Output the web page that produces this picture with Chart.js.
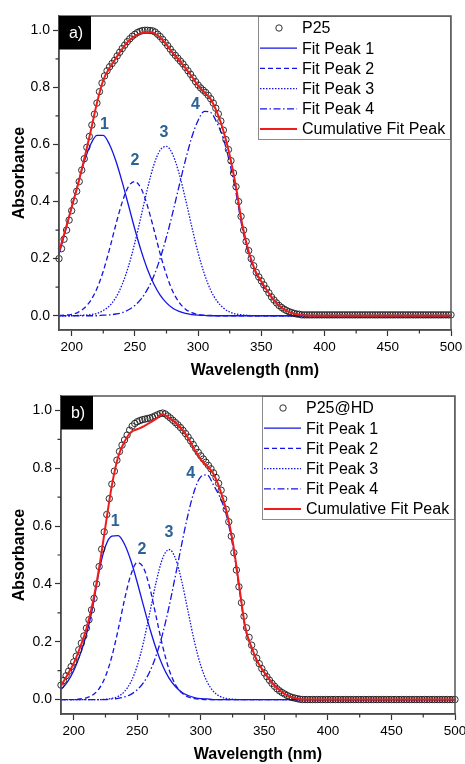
<!DOCTYPE html>
<html>
<head>
<meta charset="utf-8">
<script src="https://cdn.jsdelivr.net/npm/chart.js@4.4.1/dist/chart.umd.min.js"></script>
<style>
  html, body { margin: 0; padding: 0; background: #fff; }
  #wrap { position: relative; width: 465px; height: 764px; }
  .panel { position: absolute; left: 0; width: 465px; }
  #panelA { top: 0; height: 380px; }
  #panelB { top: 380px; height: 384px; }
</style>
</head>
<body>
<div id="wrap">
  <div class="panel" id="panelA"><canvas id="chartA"></canvas></div>
  <div class="panel" id="panelB"><canvas id="chartB"></canvas></div>
</div>
<script>
// wavelengths of the measured points (nm)
const wavelengthData = [
  190,192,194,196,198,200,202,204,206,208,
  210,212,214,216,218,220,222,224,226,228,
  230,232,234,236,238,240,242,244,246,248,
  250,252,254,256,258,260,262,264,266,268,
  270,272,274,276,278,280,282,284,286,288,
  290,292,294,296,298,300,302,304,306,308,
  310,312,314,316,318,320,322,324,326,328,
  330,332,334,336,338,340,342,344,346,348,
  350,352,354,356,358,360,362,364,366,368,
  370,372,374,376,378,380,382,384,386,388,
  390,392,394,396,398,400,402,404,406,408,
  410,412,414,416,418,420,422,424,426,428,
  430,432,434,436,438,440,442,444,446,448,
  450,452,454,456,458,460,462,464,466,468,
  470,472,474,476,478,480,482,484,486,488,
  490,492,494,496,498,500
];
// wavelengths of the fitted curves (nm)
const wavelengthFit = [
  190,195,200,205,210,215,220,225,230,235,
  240,245,250,255,260,265,270,275,280,285,
  290,295,300,305,310,315,320,325,330,335,
  340,345,350,355,360,365,370,375,380,385,
  390,395,400,405,410,415,420,425,430,435,
  440,445,450,455,460,465,470,475,480,485,
  490,495,500
];

const xTicks = [200, 250, 300, 350, 400, 450, 500];
const xMinorTicks = [225, 275, 325, 375, 425, 475];
const yTicks = [0.0, 0.2, 0.4, 0.6, 0.8, 1.0];
const yMinorTicks = [0.1, 0.3, 0.5, 0.7, 0.9];
const peakNames = ['Fit Peak 1', 'Fit Peak 2', 'Fit Peak 3', 'Fit Peak 4'];
const cumulativeName = 'Cumulative Fit Peak';
const peakTags = ['1', '2', '3', '4'];

// ---- a) P25 ----
const p25Absorbance = [
  0.200,0.235,0.268,0.300,0.335,0.368,0.402,0.436,0.470,0.510,
  0.550,0.590,0.628,0.668,0.706,0.745,0.785,0.815,0.840,0.858,
  0.872,0.884,0.895,0.910,0.923,0.936,0.948,0.960,0.970,0.979,
  0.986,0.992,0.996,0.999,1.000,1.000,0.999,0.998,0.994,0.986,
  0.978,0.968,0.957,0.946,0.934,0.922,0.912,0.902,0.892,0.882,
  0.870,0.858,0.846,0.833,0.820,0.808,0.798,0.790,0.782,0.772,
  0.760,0.745,0.727,0.707,0.682,0.650,0.617,0.582,0.543,0.500,
  0.452,0.400,0.348,0.300,0.260,0.228,0.200,0.175,0.152,0.136,
  0.122,0.108,0.094,0.080,0.066,0.055,0.045,0.036,0.029,0.023,
  0.018,0.014,0.011,0.008,0.006,0.005,0.003,0.003,0.003,0.003,
  0.003,0.003,0.003,0.003,0.003,0.003,0.003,0.003,0.003,0.003,
  0.003,0.003,0.003,0.003,0.003,0.003,0.003,0.003,0.003,0.003,
  0.003,0.003,0.003,0.003,0.003,0.003,0.003,0.003,0.003,0.003,
  0.003,0.003,0.003,0.003,0.003,0.003,0.003,0.003,0.003,0.003,
  0.003,0.003,0.003,0.003,0.003,0.003,0.003,0.003,0.003,0.003,
  0.003,0.003,0.003,0.003,0.003,0.003
];
const p25Peak1 = [
  0.215,0.295,0.380,0.462,0.540,0.600,0.632,0.632,0.599,0.542,
  0.468,0.386,0.303,0.227,0.162,0.111,0.072,0.045,0.026,0.015,
  0.008,0.004,0.002,0.001,0,0,0,0,0,0,
  0,0,0,0,0,0,0,0,0,0,
  0,0,0,0,0,0,0,0,0,0,
  0,0,0,0,0,0,0,0,0,0,
  0,0,0
];
const p25Peak2 = [
  0.001,0.002,0.005,0.012,0.027,0.053,0.095,0.156,0.234,0.320,
  0.398,0.453,0.470,0.445,0.384,0.303,0.217,0.143,0.085,0.047,
  0.023,0.011,0.004,0.002,0.001,0,0,0,0,0,
  0,0,0,0,0,0,0,0,0,0,
  0,0,0,0,0,0,0,0,0,0,
  0,0,0,0,0,0,0,0,0,0,
  0,0,0
];
const p25Peak3 = [
  0,0,0,0.001,0.002,0.004,0.008,0.018,0.035,0.064,
  0.110,0.174,0.256,0.350,0.446,0.528,0.580,0.593,0.564,0.498,
  0.409,0.312,0.221,0.146,0.089,0.051,0.027,0.013,0.006,0.003,
  0.001,0,0,0,0,0,0,0,0,0,
  0,0,0,0,0,0,0,0,0,0,
  0,0,0,0,0,0,0,0,0,0,
  0,0,0
];
const p25Peak4 = [
  0,0,0,0,0,0,0,0.002,0.003,0.006,
  0.011,0.021,0.036,0.059,0.093,0.139,0.201,0.276,0.362,0.455,
  0.545,0.625,0.684,0.716,0.712,0.675,0.620,0.535,0.430,0.305,
  0.215,0.155,0.115,0.082,0.053,0.031,0.017,0.008,0.003,0.001,
  0,0,0,0,0,0,0,0,0,0,
  0,0,0,0,0,0,0,0,0,0,
  0,0,0
];
const p25Cumulative = [
  0.225,0.300,0.380,0.460,0.550,0.645,0.745,0.825,0.868,0.902,
  0.935,0.962,0.980,0.990,0.993,0.990,0.975,0.950,0.920,0.895,
  0.867,0.838,0.806,0.782,0.758,0.712,0.648,0.562,0.450,0.318,
  0.225,0.160,0.120,0.085,0.055,0.032,0.017,0.008,0.003,0.001,
  0,0,0,0,0,0,0,0,0,0,
  0,0,0,0,0,0,0,0,0,0,
  0,0,0
];
const p25TagX = [226, 250, 273, 298];
const p25TagY = [0.668, 0.542, 0.642, 0.740];

// ---- b) P25@HD ----
const hdAbsorbance = [
  0.050,0.066,0.082,0.098,0.114,0.130,0.150,0.172,0.195,0.220,
  0.247,0.276,0.310,0.350,0.400,0.460,0.520,0.580,0.640,0.695,
  0.745,0.790,0.828,0.858,0.880,0.898,0.915,0.932,0.946,0.955,
  0.961,0.965,0.968,0.970,0.972,0.974,0.977,0.981,0.985,0.989,
  0.991,0.988,0.981,0.974,0.966,0.958,0.950,0.941,0.931,0.920,
  0.908,0.895,0.882,0.868,0.855,0.843,0.832,0.821,0.810,0.798,
  0.784,0.768,0.748,0.724,0.694,0.658,0.615,0.565,0.508,0.448,
  0.390,0.335,0.288,0.248,0.215,0.188,0.164,0.143,0.124,0.107,
  0.092,0.079,0.067,0.056,0.046,0.037,0.030,0.024,0.019,0.014,
  0.010,0.007,0.005,0.003,0.001,0,0,0,0,0,
  0,0,0,0,0,0,0,0,0,0,
  0,0,0,0,0,0,0,0,0,0,
  0,0,0,0,0,0,0,0,0,0,
  0,0,0,0,0,0,0,0,0,0,
  0,0,0,0,0,0,0,0,0,0,
  0,0,0,0,0,0
];
const hdPeak1 = [
  0.035,0.060,0.100,0.155,0.225,0.320,0.445,0.530,0.565,0.567,
  0.537,0.480,0.405,0.323,0.244,0.174,0.117,0.074,0.045,0.025,
  0.014,0.007,0.003,0.002,0,0,0,0,0,0,
  0,0,0,0,0,0,0,0,0,0,
  0,0,0,0,0,0,0,0,0,0,
  0,0,0,0,0,0,0,0,0,0,
  0,0,0
];
const hdPeak2 = [
  0,0,0,0.002,0.006,0.016,0.038,0.080,0.149,0.242,
  0.346,0.432,0.474,0.455,0.384,0.284,0.184,0.104,0.052,0.023,
  0.009,0.003,0.001,0,0,0,0,0,0,0,
  0,0,0,0,0,0,0,0,0,0,
  0,0,0,0,0,0,0,0,0,0,
  0,0,0,0,0,0,0,0,0,0,
  0,0,0
];
const hdPeak3 = [
  0,0,0,0,0,0,0,0.001,0.004,0.011,
  0.028,0.061,0.117,0.200,0.304,0.409,0.489,0.519,0.489,0.409,
  0.304,0.200,0.117,0.061,0.028,0.011,0.004,0.001,0,0,
  0,0,0,0,0,0,0,0,0,0,
  0,0,0,0,0,0,0,0,0,0,
  0,0,0,0,0,0,0,0,0,0,
  0,0,0
];
const hdPeak4 = [
  0,0,0,0,0,0,0,0,0.002,0.004,
  0.009,0.018,0.034,0.059,0.098,0.154,0.228,0.321,0.428,0.538,
  0.641,0.723,0.771,0.777,0.742,0.700,0.640,0.535,0.390,0.245,
  0.178,0.126,0.092,0.063,0.040,0.022,0.010,0.004,0.001,0,
  0,0,0,0,0,0,0,0,0,0,
  0,0,0,0,0,0,0,0,0,0,
  0,0,0
];
const hdCumulative = [
  0.047,0.085,0.125,0.180,0.245,0.335,0.455,0.600,0.740,0.840,
  0.893,0.925,0.935,0.945,0.958,0.972,0.987,0.975,0.958,0.935,
  0.905,0.865,0.830,0.808,0.780,0.728,0.655,0.550,0.400,0.250,
  0.180,0.128,0.094,0.064,0.040,0.022,0.010,0.004,0,0,
  0,0,0,0,0,0,0,0,0,0,
  0,0,0,0,0,0,0,0,0,0,
  0,0,0
];
const hdTagX = [232.6, 253.6, 275, 292];
const hdTagY = [0.617, 0.520, 0.577, 0.780];

Chart.defaults.font.family = '"Liberation Sans", Arial, sans-serif';
Chart.defaults.color = '#000';

function toPoints(xs, ys) {
  return xs.map((x, i) => ({ x: x, y: ys[i] }));
}

function buildDatasets(name, absorbance, peaks, cumulative) {
  const peakDash = [[], [5, 3], [1.5, 1.5], [7, 2.5, 1.5, 2.5]];
  const sets = [{
    label: name,
    data: toPoints(wavelengthData, absorbance),
    showLine: false,
    pointRadius: 3.2,
    pointBorderWidth: 0.9,
    pointBorderColor: '#1a1a1a',
    pointBackgroundColor: 'rgba(255,255,255,0)',
    clip: false,
    order: 1,
  }];
  peaks.forEach((p, i) => {
    sets.push({
      label: peakNames[i],
      data: toPoints(wavelengthFit, p),
      showLine: true,
      pointRadius: 0,
      borderColor: '#1414e6',
      borderWidth: 1.3,
      borderDash: peakDash[i],
      cubicInterpolationMode: 'monotone',
      order: 2,
    });
  });
  sets.push({
    label: cumulativeName,
    data: toPoints(wavelengthFit, cumulative),
    showLine: true,
    pointRadius: 0,
    borderColor: '#ee1c1c',
    borderWidth: 2,
    cubicInterpolationMode: 'monotone',
    order: 0,
  });
  return sets;
}

// frame, minor ticks, legend box, panel tag and peak numbers
const decorations = {
  id: 'decorations',
  afterDatasetsDraw(chart, args, o) {
    const { ctx, chartArea: a, scales } = chart;
    ctx.save();

    // peak numbers
    ctx.font = 'bold 16px "Liberation Sans", Arial, sans-serif';
    ctx.fillStyle = '#2d6296';
    ctx.textAlign = 'center';
    ctx.textBaseline = 'middle';
    o.tagX.forEach((tx, i) => {
      ctx.fillText(peakTags[i], scales.x.getPixelForValue(tx), scales.y.getPixelForValue(o.tagY[i]));
    });

    // legend
    const lx = a.right - 193, ly = a.top;
    ctx.fillStyle = '#fff';
    ctx.fillRect(lx, ly, 193, 124);
    ctx.strokeStyle = '#8a8a8a';
    ctx.lineWidth = 1;
    ctx.strokeRect(lx + 0.5, ly + 0.5, 192, 123);
    ctx.font = '16px "Liberation Sans", Arial, sans-serif';
    ctx.textAlign = 'left';
    chart.data.datasets.forEach((ds, i) => {
      const y = ly + 12 + i * 20.2;
      ctx.save();
      if (ds.showLine) {
        ctx.strokeStyle = ds.borderColor;
        ctx.lineWidth = ds.borderWidth;
        ctx.setLineDash(ds.borderDash || []);
        ctx.beginPath();
        ctx.moveTo(lx + 2, y);
        ctx.lineTo(lx + 39, y);
        ctx.stroke();
      } else {
        ctx.strokeStyle = ds.pointBorderColor;
        ctx.lineWidth = 0.9;
        ctx.beginPath();
        ctx.arc(lx + 21, y, 3.2, 0, Math.PI * 2);
        ctx.stroke();
      }
      ctx.restore();
      ctx.fillStyle = '#000';
      ctx.fillText(ds.label, lx + 44, y + 1);
    });

    // frame
    ctx.strokeStyle = '#555';
    ctx.lineWidth = 1.5;
    ctx.strokeRect(a.left, a.top, a.right - a.left, a.bottom - a.top);

    // minor ticks
    ctx.strokeStyle = '#333';
    ctx.lineWidth = 1.2;
    ctx.beginPath();
    xMinorTicks.forEach(v => {
      const px = scales.x.getPixelForValue(v);
      ctx.moveTo(px, a.bottom);
      ctx.lineTo(px, a.bottom + 3.5);
    });
    yMinorTicks.forEach(v => {
      const py = scales.y.getPixelForValue(v);
      ctx.moveTo(a.left, py);
      ctx.lineTo(a.left - 3.5, py);
    });
    ctx.stroke();

    // panel tag
    ctx.fillStyle = '#000';
    ctx.fillRect(a.left, a.top, 32, 33.5);
    ctx.fillStyle = '#fff';
    ctx.font = '16px "Liberation Sans", Arial, sans-serif';
    ctx.textAlign = 'center';
    ctx.textBaseline = 'middle';
    ctx.fillText(o.tag, a.left + 17, a.top + 18);

    ctx.restore();
  }
};

function makeChart(canvasId, datasets, extra) {
  return new Chart(document.getElementById(canvasId), {
    type: 'scatter',
    data: { datasets: datasets },
    plugins: [decorations],
    options: {
      responsive: true,
      maintainAspectRatio: false,
      animation: false,
      devicePixelRatio: 1,
      events: [],
      layout: { padding: { top: 16, right: extra.padRight, bottom: 0, left: 0 } },
      plugins: {
        legend: { display: false },
        tooltip: { enabled: false },
        decorations: { tag: extra.tag, tagX: extra.tagX, tagY: extra.tagY },
      },
      scales: {
        x: {
          type: 'linear',
          min: 190,
          max: 500,
          afterBuildTicks: s => { s.ticks = xTicks.map(v => ({ value: v })); },
          afterFit: s => { s.height = 50; s.paddingLeft = 0; s.paddingRight = 0; },
          ticks: { font: { size: 13.5 }, padding: 3, maxRotation: 0, callback: v => String(v) },
          grid: { drawOnChartArea: false, tickLength: 6, tickWidth: 1.2, color: '#333' },
          border: { color: '#333', width: 1.5 },
          title: {
            display: true,
            text: 'Wavelength (nm)',
            font: { size: 16, weight: 'bold' },
            padding: { top: 0, bottom: 0 },
          },
        },
        y: {
          min: -0.05,
          max: 1.05,
          afterBuildTicks: s => { s.ticks = yTicks.map(v => ({ value: v })); },
          afterFit: s => { s.width = extra.yWidth; s.paddingTop = 0; s.paddingBottom = 0; },
          ticks: { font: { size: 14 }, padding: 3, callback: v => Number(v).toFixed(1) },
          grid: { drawOnChartArea: false, tickLength: 6, tickWidth: 1.2, color: '#333' },
          border: { color: '#333', width: 1.5 },
          title: {
            display: true,
            text: 'Absorbance',
            font: { size: 16, weight: 'bold' },
            padding: { top: 10, bottom: 0 },
          },
        },
      },
    },
  });
}

makeChart('chartA',
  buildDatasets('P25', p25Absorbance, [p25Peak1, p25Peak2, p25Peak3, p25Peak4], p25Cumulative),
  { tag: 'a)', tagX: p25TagX, tagY: p25TagY, padRight: 14, yWidth: 59 });

makeChart('chartB',
  buildDatasets('P25@HD', hdAbsorbance, [hdPeak1, hdPeak2, hdPeak3, hdPeak4], hdCumulative),
  { tag: 'b)', tagX: hdTagX, tagY: hdTagY, padRight: 10, yWidth: 61 });
</script>
</body>
</html>
